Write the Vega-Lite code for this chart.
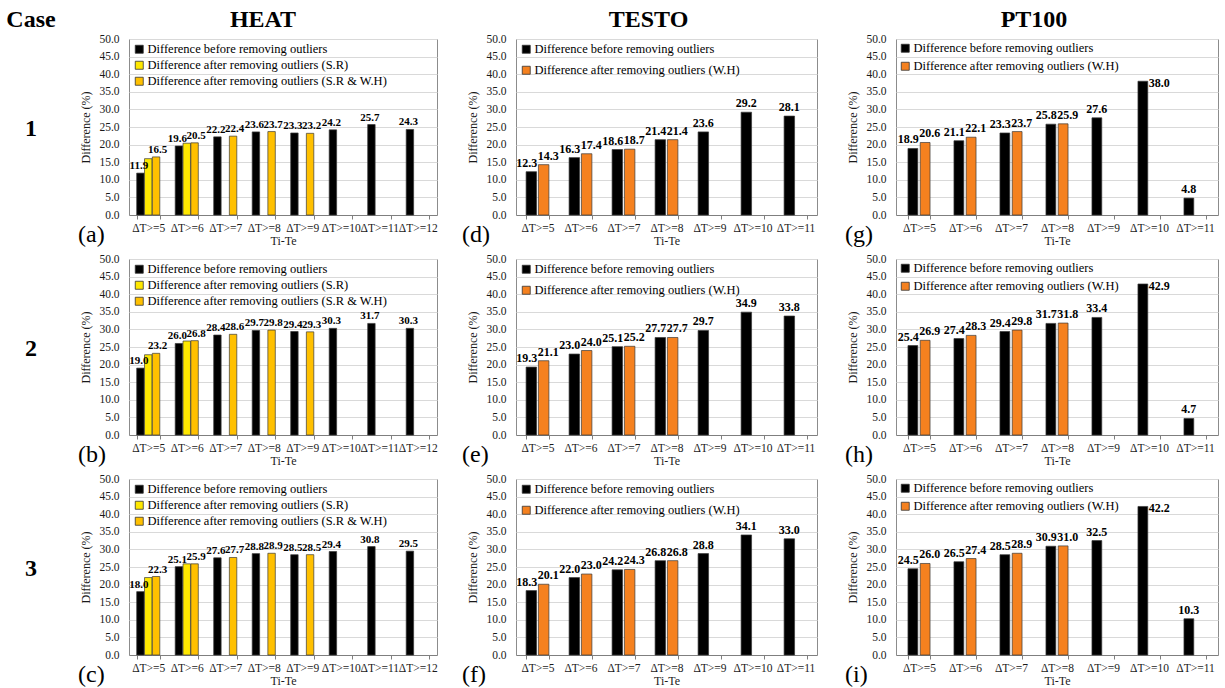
{
  "$schema": "https://vega.github.io/schema/vega-lite/v6.json",
  "background": "white",
  "padding": {"left": 0, "top": 0, "right": 0, "bottom": 0},
  "config": {
    "font": "Liberation Serif",
    "view": {"stroke": "#8c8c8c", "strokeWidth": 1},
    "axis": {"labelFont": "Liberation Serif", "titleFont": "Liberation Serif", "labelColor": "#1a1a1a", "titleColor": "#1a1a1a", "titleFontWeight": "normal", "labelFontSize": 11.5, "titleFontSize": 12},
    "axisY": {"grid": true, "gridColor": "#d9d9d9", "domain": false, "ticks": false, "labelPadding": 10, "titlePadding": 6},
    "axisX": {"grid": false, "domainColor": "#7f7f7f", "tickColor": "#7f7f7f", "tickBand": "extent", "tickSize": 4, "labelAngle": 0, "labelOverlap": false, "labelPadding": 3, "titlePadding": 2},
    "legend": {"padding": 0, "labelFont": "Liberation Serif", "labelFontSize": 12.5, "labelColor": "#000", "labelLimit": 400, "symbolType": "square", "symbolSize": 64, "symbolStrokeColor": "#333", "symbolStrokeWidth": 0.8, "labelOffset": 2},
    "title": {"font": "Liberation Serif", "fontSize": 24, "fontWeight": "normal", "color": "#000", "orient": "bottom", "anchor": "start", "frame": "group", "offset": -24, "dx": -51},
    "text": {"font": "Liberation Serif", "fontSize": 12, "fontWeight": "bold", "color": "#000"}
  },
  "datasets": {
    "diff": [
      {"case": "1", "sensor": "HEAT", "range": "ΔT>=5", "series": "Difference before removing outliers", "value": 11.9},
      {"case": "1", "sensor": "HEAT", "range": "ΔT>=5", "series": "Difference after removing outliers (S.R)", "value": 16.0},
      {"case": "1", "sensor": "HEAT", "range": "ΔT>=5", "series": "Difference after removing outliers (S.R & W.H)", "value": 16.5},
      {"case": "1", "sensor": "HEAT", "range": "ΔT>=6", "series": "Difference before removing outliers", "value": 19.6},
      {"case": "1", "sensor": "HEAT", "range": "ΔT>=6", "series": "Difference after removing outliers (S.R)", "value": 20.4},
      {"case": "1", "sensor": "HEAT", "range": "ΔT>=6", "series": "Difference after removing outliers (S.R & W.H)", "value": 20.5},
      {"case": "1", "sensor": "HEAT", "range": "ΔT>=7", "series": "Difference before removing outliers", "value": 22.2},
      {"case": "1", "sensor": "HEAT", "range": "ΔT>=7", "series": "Difference after removing outliers (S.R & W.H)", "value": 22.4},
      {"case": "1", "sensor": "HEAT", "range": "ΔT>=8", "series": "Difference before removing outliers", "value": 23.6},
      {"case": "1", "sensor": "HEAT", "range": "ΔT>=8", "series": "Difference after removing outliers (S.R & W.H)", "value": 23.7},
      {"case": "1", "sensor": "HEAT", "range": "ΔT>=9", "series": "Difference before removing outliers", "value": 23.3},
      {"case": "1", "sensor": "HEAT", "range": "ΔT>=9", "series": "Difference after removing outliers (S.R & W.H)", "value": 23.2},
      {"case": "1", "sensor": "HEAT", "range": "ΔT>=10", "series": "Difference before removing outliers", "value": 24.2},
      {"case": "1", "sensor": "HEAT", "range": "ΔT>=11", "series": "Difference before removing outliers", "value": 25.7},
      {"case": "1", "sensor": "HEAT", "range": "ΔT>=12", "series": "Difference before removing outliers", "value": 24.3},

      {"case": "2", "sensor": "HEAT", "range": "ΔT>=5", "series": "Difference before removing outliers", "value": 19.0},
      {"case": "2", "sensor": "HEAT", "range": "ΔT>=5", "series": "Difference after removing outliers (S.R)", "value": 22.8},
      {"case": "2", "sensor": "HEAT", "range": "ΔT>=5", "series": "Difference after removing outliers (S.R & W.H)", "value": 23.2},
      {"case": "2", "sensor": "HEAT", "range": "ΔT>=6", "series": "Difference before removing outliers", "value": 26.0},
      {"case": "2", "sensor": "HEAT", "range": "ΔT>=6", "series": "Difference after removing outliers (S.R)", "value": 26.7},
      {"case": "2", "sensor": "HEAT", "range": "ΔT>=6", "series": "Difference after removing outliers (S.R & W.H)", "value": 26.8},
      {"case": "2", "sensor": "HEAT", "range": "ΔT>=7", "series": "Difference before removing outliers", "value": 28.4},
      {"case": "2", "sensor": "HEAT", "range": "ΔT>=7", "series": "Difference after removing outliers (S.R & W.H)", "value": 28.6},
      {"case": "2", "sensor": "HEAT", "range": "ΔT>=8", "series": "Difference before removing outliers", "value": 29.7},
      {"case": "2", "sensor": "HEAT", "range": "ΔT>=8", "series": "Difference after removing outliers (S.R & W.H)", "value": 29.8},
      {"case": "2", "sensor": "HEAT", "range": "ΔT>=9", "series": "Difference before removing outliers", "value": 29.4},
      {"case": "2", "sensor": "HEAT", "range": "ΔT>=9", "series": "Difference after removing outliers (S.R & W.H)", "value": 29.3},
      {"case": "2", "sensor": "HEAT", "range": "ΔT>=10", "series": "Difference before removing outliers", "value": 30.3},
      {"case": "2", "sensor": "HEAT", "range": "ΔT>=11", "series": "Difference before removing outliers", "value": 31.7},
      {"case": "2", "sensor": "HEAT", "range": "ΔT>=12", "series": "Difference before removing outliers", "value": 30.3},

      {"case": "3", "sensor": "HEAT", "range": "ΔT>=5", "series": "Difference before removing outliers", "value": 18.0},
      {"case": "3", "sensor": "HEAT", "range": "ΔT>=5", "series": "Difference after removing outliers (S.R)", "value": 22.0},
      {"case": "3", "sensor": "HEAT", "range": "ΔT>=5", "series": "Difference after removing outliers (S.R & W.H)", "value": 22.3},
      {"case": "3", "sensor": "HEAT", "range": "ΔT>=6", "series": "Difference before removing outliers", "value": 25.1},
      {"case": "3", "sensor": "HEAT", "range": "ΔT>=6", "series": "Difference after removing outliers (S.R)", "value": 25.9},
      {"case": "3", "sensor": "HEAT", "range": "ΔT>=6", "series": "Difference after removing outliers (S.R & W.H)", "value": 25.9},
      {"case": "3", "sensor": "HEAT", "range": "ΔT>=7", "series": "Difference before removing outliers", "value": 27.6},
      {"case": "3", "sensor": "HEAT", "range": "ΔT>=7", "series": "Difference after removing outliers (S.R & W.H)", "value": 27.7},
      {"case": "3", "sensor": "HEAT", "range": "ΔT>=8", "series": "Difference before removing outliers", "value": 28.8},
      {"case": "3", "sensor": "HEAT", "range": "ΔT>=8", "series": "Difference after removing outliers (S.R & W.H)", "value": 28.9},
      {"case": "3", "sensor": "HEAT", "range": "ΔT>=9", "series": "Difference before removing outliers", "value": 28.5},
      {"case": "3", "sensor": "HEAT", "range": "ΔT>=9", "series": "Difference after removing outliers (S.R & W.H)", "value": 28.5},
      {"case": "3", "sensor": "HEAT", "range": "ΔT>=10", "series": "Difference before removing outliers", "value": 29.4},
      {"case": "3", "sensor": "HEAT", "range": "ΔT>=11", "series": "Difference before removing outliers", "value": 30.8},
      {"case": "3", "sensor": "HEAT", "range": "ΔT>=12", "series": "Difference before removing outliers", "value": 29.5},

      {"case": "1", "sensor": "TESTO", "range": "ΔT>=5", "series": "Difference before removing outliers", "value": 12.3},
      {"case": "1", "sensor": "TESTO", "range": "ΔT>=5", "series": "Difference after removing outliers (W.H)", "value": 14.3},
      {"case": "1", "sensor": "TESTO", "range": "ΔT>=6", "series": "Difference before removing outliers", "value": 16.3},
      {"case": "1", "sensor": "TESTO", "range": "ΔT>=6", "series": "Difference after removing outliers (W.H)", "value": 17.4},
      {"case": "1", "sensor": "TESTO", "range": "ΔT>=7", "series": "Difference before removing outliers", "value": 18.6},
      {"case": "1", "sensor": "TESTO", "range": "ΔT>=7", "series": "Difference after removing outliers (W.H)", "value": 18.7},
      {"case": "1", "sensor": "TESTO", "range": "ΔT>=8", "series": "Difference before removing outliers", "value": 21.4},
      {"case": "1", "sensor": "TESTO", "range": "ΔT>=8", "series": "Difference after removing outliers (W.H)", "value": 21.4},
      {"case": "1", "sensor": "TESTO", "range": "ΔT>=9", "series": "Difference before removing outliers", "value": 23.6},
      {"case": "1", "sensor": "TESTO", "range": "ΔT>=10", "series": "Difference before removing outliers", "value": 29.2},
      {"case": "1", "sensor": "TESTO", "range": "ΔT>=11", "series": "Difference before removing outliers", "value": 28.1},

      {"case": "2", "sensor": "TESTO", "range": "ΔT>=5", "series": "Difference before removing outliers", "value": 19.3},
      {"case": "2", "sensor": "TESTO", "range": "ΔT>=5", "series": "Difference after removing outliers (W.H)", "value": 21.1},
      {"case": "2", "sensor": "TESTO", "range": "ΔT>=6", "series": "Difference before removing outliers", "value": 23.0},
      {"case": "2", "sensor": "TESTO", "range": "ΔT>=6", "series": "Difference after removing outliers (W.H)", "value": 24.0},
      {"case": "2", "sensor": "TESTO", "range": "ΔT>=7", "series": "Difference before removing outliers", "value": 25.1},
      {"case": "2", "sensor": "TESTO", "range": "ΔT>=7", "series": "Difference after removing outliers (W.H)", "value": 25.2},
      {"case": "2", "sensor": "TESTO", "range": "ΔT>=8", "series": "Difference before removing outliers", "value": 27.7},
      {"case": "2", "sensor": "TESTO", "range": "ΔT>=8", "series": "Difference after removing outliers (W.H)", "value": 27.7},
      {"case": "2", "sensor": "TESTO", "range": "ΔT>=9", "series": "Difference before removing outliers", "value": 29.7},
      {"case": "2", "sensor": "TESTO", "range": "ΔT>=10", "series": "Difference before removing outliers", "value": 34.9},
      {"case": "2", "sensor": "TESTO", "range": "ΔT>=11", "series": "Difference before removing outliers", "value": 33.8},

      {"case": "3", "sensor": "TESTO", "range": "ΔT>=5", "series": "Difference before removing outliers", "value": 18.3},
      {"case": "3", "sensor": "TESTO", "range": "ΔT>=5", "series": "Difference after removing outliers (W.H)", "value": 20.1},
      {"case": "3", "sensor": "TESTO", "range": "ΔT>=6", "series": "Difference before removing outliers", "value": 22.0},
      {"case": "3", "sensor": "TESTO", "range": "ΔT>=6", "series": "Difference after removing outliers (W.H)", "value": 23.0},
      {"case": "3", "sensor": "TESTO", "range": "ΔT>=7", "series": "Difference before removing outliers", "value": 24.2},
      {"case": "3", "sensor": "TESTO", "range": "ΔT>=7", "series": "Difference after removing outliers (W.H)", "value": 24.3},
      {"case": "3", "sensor": "TESTO", "range": "ΔT>=8", "series": "Difference before removing outliers", "value": 26.8},
      {"case": "3", "sensor": "TESTO", "range": "ΔT>=8", "series": "Difference after removing outliers (W.H)", "value": 26.8},
      {"case": "3", "sensor": "TESTO", "range": "ΔT>=9", "series": "Difference before removing outliers", "value": 28.8},
      {"case": "3", "sensor": "TESTO", "range": "ΔT>=10", "series": "Difference before removing outliers", "value": 34.1},
      {"case": "3", "sensor": "TESTO", "range": "ΔT>=11", "series": "Difference before removing outliers", "value": 33.0},

      {"case": "1", "sensor": "PT100", "range": "ΔT>=5", "series": "Difference before removing outliers", "value": 18.9},
      {"case": "1", "sensor": "PT100", "range": "ΔT>=5", "series": "Difference after removing outliers (W.H)", "value": 20.6},
      {"case": "1", "sensor": "PT100", "range": "ΔT>=6", "series": "Difference before removing outliers", "value": 21.1},
      {"case": "1", "sensor": "PT100", "range": "ΔT>=6", "series": "Difference after removing outliers (W.H)", "value": 22.1},
      {"case": "1", "sensor": "PT100", "range": "ΔT>=7", "series": "Difference before removing outliers", "value": 23.3},
      {"case": "1", "sensor": "PT100", "range": "ΔT>=7", "series": "Difference after removing outliers (W.H)", "value": 23.7},
      {"case": "1", "sensor": "PT100", "range": "ΔT>=8", "series": "Difference before removing outliers", "value": 25.8},
      {"case": "1", "sensor": "PT100", "range": "ΔT>=8", "series": "Difference after removing outliers (W.H)", "value": 25.9},
      {"case": "1", "sensor": "PT100", "range": "ΔT>=9", "series": "Difference before removing outliers", "value": 27.6},
      {"case": "1", "sensor": "PT100", "range": "ΔT>=10", "series": "Difference before removing outliers", "value": 38.0},
      {"case": "1", "sensor": "PT100", "range": "ΔT>=11", "series": "Difference before removing outliers", "value": 4.8},

      {"case": "2", "sensor": "PT100", "range": "ΔT>=5", "series": "Difference before removing outliers", "value": 25.4},
      {"case": "2", "sensor": "PT100", "range": "ΔT>=5", "series": "Difference after removing outliers (W.H)", "value": 26.9},
      {"case": "2", "sensor": "PT100", "range": "ΔT>=6", "series": "Difference before removing outliers", "value": 27.4},
      {"case": "2", "sensor": "PT100", "range": "ΔT>=6", "series": "Difference after removing outliers (W.H)", "value": 28.3},
      {"case": "2", "sensor": "PT100", "range": "ΔT>=7", "series": "Difference before removing outliers", "value": 29.4},
      {"case": "2", "sensor": "PT100", "range": "ΔT>=7", "series": "Difference after removing outliers (W.H)", "value": 29.8},
      {"case": "2", "sensor": "PT100", "range": "ΔT>=8", "series": "Difference before removing outliers", "value": 31.7},
      {"case": "2", "sensor": "PT100", "range": "ΔT>=8", "series": "Difference after removing outliers (W.H)", "value": 31.8},
      {"case": "2", "sensor": "PT100", "range": "ΔT>=9", "series": "Difference before removing outliers", "value": 33.4},
      {"case": "2", "sensor": "PT100", "range": "ΔT>=10", "series": "Difference before removing outliers", "value": 42.9},
      {"case": "2", "sensor": "PT100", "range": "ΔT>=11", "series": "Difference before removing outliers", "value": 4.7},

      {"case": "3", "sensor": "PT100", "range": "ΔT>=5", "series": "Difference before removing outliers", "value": 24.5},
      {"case": "3", "sensor": "PT100", "range": "ΔT>=5", "series": "Difference after removing outliers (W.H)", "value": 26.0},
      {"case": "3", "sensor": "PT100", "range": "ΔT>=6", "series": "Difference before removing outliers", "value": 26.5},
      {"case": "3", "sensor": "PT100", "range": "ΔT>=6", "series": "Difference after removing outliers (W.H)", "value": 27.4},
      {"case": "3", "sensor": "PT100", "range": "ΔT>=7", "series": "Difference before removing outliers", "value": 28.5},
      {"case": "3", "sensor": "PT100", "range": "ΔT>=7", "series": "Difference after removing outliers (W.H)", "value": 28.9},
      {"case": "3", "sensor": "PT100", "range": "ΔT>=8", "series": "Difference before removing outliers", "value": 30.9},
      {"case": "3", "sensor": "PT100", "range": "ΔT>=8", "series": "Difference after removing outliers (W.H)", "value": 31.0},
      {"case": "3", "sensor": "PT100", "range": "ΔT>=9", "series": "Difference before removing outliers", "value": 32.5},
      {"case": "3", "sensor": "PT100", "range": "ΔT>=10", "series": "Difference before removing outliers", "value": 42.2},
      {"case": "3", "sensor": "PT100", "range": "ΔT>=11", "series": "Difference before removing outliers", "value": 10.3}
    ]
  },
  "bounds": "full",
  "spacing": 0,
  "resolve": {"scale": {"color": "independent", "xOffset": "independent", "x": "independent", "y": "independent"}, "legend": {"color": "independent"}},
  "vconcat": [
    {
      "bounds": "flush",
      "spacing": 79,
      "hconcat": [
        {"width": 50, "height": 30, "view": {"stroke": null}, "data": {"values": [{"label": "Case"}]}, "mark": {"type": "text", "fontSize": 24, "dx": 6, "dy": 5}, "encoding": {"text": {"field": "label"}}},
        {"width": 308, "height": 30, "view": {"stroke": null}, "data": {"values": [{"label": "HEAT"}]}, "mark": {"type": "text", "fontSize": 24, "dx": -20, "dy": 5}, "encoding": {"text": {"field": "label"}}},
        {"width": 301, "height": 30, "view": {"stroke": null}, "data": {"values": [{"label": "TESTO"}]}, "mark": {"type": "text", "fontSize": 24, "dx": -18, "dy": 5}, "encoding": {"text": {"field": "label"}}},
        {"width": 322, "height": 30, "view": {"stroke": null}, "data": {"values": [{"label": "PT100"}]}, "mark": {"type": "text", "fontSize": 24, "dx": -23, "dy": 5}, "encoding": {"text": {"field": "label"}}}
      ]
    },
    {
      "columns": 4,
      "bounds": "flush",
      "align": "each",
      "spacing": {"row": 44, "column": 79},
      "resolve": {"scale": {"color": "independent", "xOffset": "independent", "x": "independent", "y": "independent"}, "legend": {"color": "independent"}},
      "concat": [
        {"width": 50, "height": 176, "view": {"stroke": null}, "data": {"values": [{"label": "1"}]}, "mark": {"type": "text", "fontSize": 24, "dx": 6, "dy": 2}, "encoding": {"text": {"field": "label"}}},
        {
          "width": 308, "height": 176, "title": "(a)",
          "data": {"name": "diff"},
          "transform": [{"filter": "datum.case == '1' && datum.sensor == 'HEAT'"}],
          "encoding": {
            "x": {"field": "range", "type": "nominal", "sort": ["ΔT>=5", "ΔT>=6", "ΔT>=7", "ΔT>=8", "ΔT>=9", "ΔT>=10", "ΔT>=11", "ΔT>=12"], "scale": {"paddingInner": 0.4, "paddingOuter": 0.2}, "axis": {"title": "Ti-Te"}},
            "xOffset": {"field": "series", "type": "nominal", "scale": {"domain": ["Difference before removing outliers", "Difference after removing outliers (S.R)", "Difference after removing outliers (S.R & W.H)"], "paddingInner": 0.05}},
            "y": {"field": "value", "type": "quantitative", "scale": {"domain": [0, 50]}, "axis": {"values": [0, 5, 10, 15, 20, 25, 30, 35, 40, 45, 50], "format": ".1f", "title": "Difference (%)"}}
          },
          "layer": [
            {"mark": {"type": "bar", "stroke": "#3a3a3a", "strokeWidth": 0.7}, "encoding": {"color": {"field": "series", "type": "nominal", "scale": {"domain": ["Difference before removing outliers", "Difference after removing outliers (S.R)", "Difference after removing outliers (S.R & W.H)"], "range": ["#000000", "#ffe800", "#ffc000"]}, "legend": {"title": null, "orient": "top-left", "offset": 4, "rowPadding": 3}}}},
            {"transform": [{"filter": "indexof(datum.series, 'before') >= 0"}], "mark": {"type": "text", "fontSize": 11, "align": "center", "baseline": "bottom", "dx": -1.5, "dy": -2}, "encoding": {"text": {"field": "value", "type": "quantitative", "format": ".1f"}}},
            {"transform": [{"filter": "indexof(datum.series, 'W.H') >= 0"}], "mark": {"type": "text", "fontSize": 11, "align": "center", "baseline": "bottom", "dx": 1.5, "dy": -2}, "encoding": {"text": {"field": "value", "type": "quantitative", "format": ".1f"}}}
          ]
        },
        {
          "width": 301, "height": 176, "title": {"text": "(d)", "dx": -54},
          "data": {"name": "diff"},
          "transform": [{"filter": "datum.case == '1' && datum.sensor == 'TESTO'"}],
          "encoding": {
            "x": {"field": "range", "type": "nominal", "sort": ["ΔT>=5", "ΔT>=6", "ΔT>=7", "ΔT>=8", "ΔT>=9", "ΔT>=10", "ΔT>=11"], "scale": {"paddingInner": 0.47, "paddingOuter": 0.235}, "axis": {"title": "Ti-Te"}},
            "xOffset": {"field": "series", "type": "nominal", "scale": {"domain": ["Difference before removing outliers", "Difference after removing outliers (W.H)"], "paddingInner": 0.15}},
            "y": {"field": "value", "type": "quantitative", "scale": {"domain": [0, 50]}, "axis": {"values": [0, 5, 10, 15, 20, 25, 30, 35, 40, 45, 50], "format": ".1f", "title": "Difference (%)"}}
          },
          "layer": [
            {"mark": {"type": "bar", "stroke": "#3a3a3a", "strokeWidth": 0.7}, "encoding": {"color": {"field": "series", "type": "nominal", "scale": {"domain": ["Difference before removing outliers", "Difference after removing outliers (W.H)"], "range": ["#000000", "#f5811f"]}, "legend": {"title": null, "orient": "top-left", "offset": 4, "rowPadding": 8}}}},
            {"transform": [{"joinaggregate": [{"op": "count", "as": "n"}], "groupby": ["range"]}, {"filter": "indexof(datum.series, 'before') >= 0 && datum.n > 1"}], "mark": {"type": "text", "align": "right", "baseline": "bottom", "dx": 6, "dy": -2}, "encoding": {"text": {"field": "value", "type": "quantitative", "format": ".1f"}}},
            {"transform": [{"joinaggregate": [{"op": "count", "as": "n"}], "groupby": ["range"]}, {"filter": "indexof(datum.series, 'before') >= 0 && datum.n == 1"}], "mark": {"type": "text", "align": "center", "baseline": "bottom", "dy": -2}, "encoding": {"text": {"field": "value", "type": "quantitative", "format": ".1f"}}},
            {"transform": [{"filter": "indexof(datum.series, 'W.H') >= 0"}], "mark": {"type": "text", "align": "left", "baseline": "bottom", "dx": -6, "dy": -2}, "encoding": {"text": {"field": "value", "type": "quantitative", "format": ".1f"}}}
          ]
        },
        {
          "width": 322, "height": 176, "title": "(g)",
          "data": {"name": "diff"},
          "transform": [{"filter": "datum.case == '1' && datum.sensor == 'PT100'"}],
          "encoding": {
            "x": {"field": "range", "type": "nominal", "sort": ["ΔT>=5", "ΔT>=6", "ΔT>=7", "ΔT>=8", "ΔT>=9", "ΔT>=10", "ΔT>=11"], "scale": {"paddingInner": 0.52, "paddingOuter": 0.26}, "axis": {"title": "Ti-Te"}},
            "xOffset": {"field": "series", "type": "nominal", "scale": {"domain": ["Difference before removing outliers", "Difference after removing outliers (W.H)"], "paddingInner": 0.2}},
            "y": {"field": "value", "type": "quantitative", "scale": {"domain": [0, 50]}, "axis": {"values": [0, 5, 10, 15, 20, 25, 30, 35, 40, 45, 50], "format": ".1f", "title": "Difference (%)"}}
          },
          "layer": [
            {"mark": {"type": "bar", "stroke": "#3a3a3a", "strokeWidth": 0.7}, "encoding": {"color": {"field": "series", "type": "nominal", "scale": {"domain": ["Difference before removing outliers", "Difference after removing outliers (W.H)"], "range": ["#000000", "#f5811f"]}, "legend": {"title": null, "orient": "top-left", "offset": 3, "rowPadding": 5}}}},
            {"transform": [{"joinaggregate": [{"op": "count", "as": "n"}], "groupby": ["range"]}, {"filter": "indexof(datum.series, 'before') >= 0 && datum.n > 1"}], "mark": {"type": "text", "align": "right", "baseline": "bottom", "dx": 6, "dy": -2}, "encoding": {"text": {"field": "value", "type": "quantitative", "format": ".1f"}}},
            {"transform": [{"joinaggregate": [{"op": "count", "as": "n"}], "groupby": ["range"]}, {"filter": "indexof(datum.series, 'before') >= 0 && datum.n == 1 && datum.range != 'ΔT>=10'"}], "mark": {"type": "text", "align": "center", "baseline": "bottom", "dy": -2}, "encoding": {"text": {"field": "value", "type": "quantitative", "format": ".1f"}}},
            {"transform": [{"filter": "datum.range == 'ΔT>=10'"}], "mark": {"type": "text", "align": "left", "baseline": "middle", "dx": 6, "dy": 2}, "encoding": {"text": {"field": "value", "type": "quantitative", "format": ".1f"}}},
            {"transform": [{"filter": "indexof(datum.series, 'W.H') >= 0"}], "mark": {"type": "text", "align": "left", "baseline": "bottom", "dx": -6, "dy": -2}, "encoding": {"text": {"field": "value", "type": "quantitative", "format": ".1f"}}}
          ]
        },

        {"width": 50, "height": 176, "view": {"stroke": null}, "data": {"values": [{"label": "2"}]}, "mark": {"type": "text", "fontSize": 24, "dx": 6, "dy": 2}, "encoding": {"text": {"field": "label"}}},
        {
          "width": 308, "height": 176, "title": "(b)",
          "data": {"name": "diff"},
          "transform": [{"filter": "datum.case == '2' && datum.sensor == 'HEAT'"}],
          "encoding": {
            "x": {"field": "range", "type": "nominal", "sort": ["ΔT>=5", "ΔT>=6", "ΔT>=7", "ΔT>=8", "ΔT>=9", "ΔT>=10", "ΔT>=11", "ΔT>=12"], "scale": {"paddingInner": 0.4, "paddingOuter": 0.2}, "axis": {"title": "Ti-Te"}},
            "xOffset": {"field": "series", "type": "nominal", "scale": {"domain": ["Difference before removing outliers", "Difference after removing outliers (S.R)", "Difference after removing outliers (S.R & W.H)"], "paddingInner": 0.05}},
            "y": {"field": "value", "type": "quantitative", "scale": {"domain": [0, 50]}, "axis": {"values": [0, 5, 10, 15, 20, 25, 30, 35, 40, 45, 50], "format": ".1f", "title": "Difference (%)"}}
          },
          "layer": [
            {"mark": {"type": "bar", "stroke": "#3a3a3a", "strokeWidth": 0.7}, "encoding": {"color": {"field": "series", "type": "nominal", "scale": {"domain": ["Difference before removing outliers", "Difference after removing outliers (S.R)", "Difference after removing outliers (S.R & W.H)"], "range": ["#000000", "#ffe800", "#ffc000"]}, "legend": {"title": null, "orient": "top-left", "offset": 4, "rowPadding": 3}}}},
            {"transform": [{"filter": "indexof(datum.series, 'before') >= 0"}], "mark": {"type": "text", "fontSize": 11, "align": "center", "baseline": "bottom", "dx": -1.5, "dy": -2}, "encoding": {"text": {"field": "value", "type": "quantitative", "format": ".1f"}}},
            {"transform": [{"filter": "indexof(datum.series, 'W.H') >= 0"}], "mark": {"type": "text", "fontSize": 11, "align": "center", "baseline": "bottom", "dx": 1.5, "dy": -2}, "encoding": {"text": {"field": "value", "type": "quantitative", "format": ".1f"}}}
          ]
        },
        {
          "width": 301, "height": 176, "title": {"text": "(e)", "dx": -54},
          "data": {"name": "diff"},
          "transform": [{"filter": "datum.case == '2' && datum.sensor == 'TESTO'"}],
          "encoding": {
            "x": {"field": "range", "type": "nominal", "sort": ["ΔT>=5", "ΔT>=6", "ΔT>=7", "ΔT>=8", "ΔT>=9", "ΔT>=10", "ΔT>=11"], "scale": {"paddingInner": 0.47, "paddingOuter": 0.235}, "axis": {"title": "Ti-Te"}},
            "xOffset": {"field": "series", "type": "nominal", "scale": {"domain": ["Difference before removing outliers", "Difference after removing outliers (W.H)"], "paddingInner": 0.15}},
            "y": {"field": "value", "type": "quantitative", "scale": {"domain": [0, 50]}, "axis": {"values": [0, 5, 10, 15, 20, 25, 30, 35, 40, 45, 50], "format": ".1f", "title": "Difference (%)"}}
          },
          "layer": [
            {"mark": {"type": "bar", "stroke": "#3a3a3a", "strokeWidth": 0.7}, "encoding": {"color": {"field": "series", "type": "nominal", "scale": {"domain": ["Difference before removing outliers", "Difference after removing outliers (W.H)"], "range": ["#000000", "#f5811f"]}, "legend": {"title": null, "orient": "top-left", "offset": 4, "rowPadding": 8}}}},
            {"transform": [{"joinaggregate": [{"op": "count", "as": "n"}], "groupby": ["range"]}, {"filter": "indexof(datum.series, 'before') >= 0 && datum.n > 1"}], "mark": {"type": "text", "align": "right", "baseline": "bottom", "dx": 6, "dy": -2}, "encoding": {"text": {"field": "value", "type": "quantitative", "format": ".1f"}}},
            {"transform": [{"joinaggregate": [{"op": "count", "as": "n"}], "groupby": ["range"]}, {"filter": "indexof(datum.series, 'before') >= 0 && datum.n == 1"}], "mark": {"type": "text", "align": "center", "baseline": "bottom", "dy": -2}, "encoding": {"text": {"field": "value", "type": "quantitative", "format": ".1f"}}},
            {"transform": [{"filter": "indexof(datum.series, 'W.H') >= 0"}], "mark": {"type": "text", "align": "left", "baseline": "bottom", "dx": -6, "dy": -2}, "encoding": {"text": {"field": "value", "type": "quantitative", "format": ".1f"}}}
          ]
        },
        {
          "width": 322, "height": 176, "title": "(h)",
          "data": {"name": "diff"},
          "transform": [{"filter": "datum.case == '2' && datum.sensor == 'PT100'"}],
          "encoding": {
            "x": {"field": "range", "type": "nominal", "sort": ["ΔT>=5", "ΔT>=6", "ΔT>=7", "ΔT>=8", "ΔT>=9", "ΔT>=10", "ΔT>=11"], "scale": {"paddingInner": 0.52, "paddingOuter": 0.26}, "axis": {"title": "Ti-Te"}},
            "xOffset": {"field": "series", "type": "nominal", "scale": {"domain": ["Difference before removing outliers", "Difference after removing outliers (W.H)"], "paddingInner": 0.2}},
            "y": {"field": "value", "type": "quantitative", "scale": {"domain": [0, 50]}, "axis": {"values": [0, 5, 10, 15, 20, 25, 30, 35, 40, 45, 50], "format": ".1f", "title": "Difference (%)"}}
          },
          "layer": [
            {"mark": {"type": "bar", "stroke": "#3a3a3a", "strokeWidth": 0.7}, "encoding": {"color": {"field": "series", "type": "nominal", "scale": {"domain": ["Difference before removing outliers", "Difference after removing outliers (W.H)"], "range": ["#000000", "#f5811f"]}, "legend": {"title": null, "orient": "top-left", "offset": 3, "rowPadding": 5}}}},
            {"transform": [{"joinaggregate": [{"op": "count", "as": "n"}], "groupby": ["range"]}, {"filter": "indexof(datum.series, 'before') >= 0 && datum.n > 1"}], "mark": {"type": "text", "align": "right", "baseline": "bottom", "dx": 6, "dy": -2}, "encoding": {"text": {"field": "value", "type": "quantitative", "format": ".1f"}}},
            {"transform": [{"joinaggregate": [{"op": "count", "as": "n"}], "groupby": ["range"]}, {"filter": "indexof(datum.series, 'before') >= 0 && datum.n == 1 && datum.range != 'ΔT>=10'"}], "mark": {"type": "text", "align": "center", "baseline": "bottom", "dy": -2}, "encoding": {"text": {"field": "value", "type": "quantitative", "format": ".1f"}}},
            {"transform": [{"filter": "datum.range == 'ΔT>=10'"}], "mark": {"type": "text", "align": "left", "baseline": "middle", "dx": 6, "dy": 2}, "encoding": {"text": {"field": "value", "type": "quantitative", "format": ".1f"}}},
            {"transform": [{"filter": "indexof(datum.series, 'W.H') >= 0"}], "mark": {"type": "text", "align": "left", "baseline": "bottom", "dx": -6, "dy": -2}, "encoding": {"text": {"field": "value", "type": "quantitative", "format": ".1f"}}}
          ]
        },

        {"width": 50, "height": 176, "view": {"stroke": null}, "data": {"values": [{"label": "3"}]}, "mark": {"type": "text", "fontSize": 24, "dx": 6, "dy": 2}, "encoding": {"text": {"field": "label"}}},
        {
          "width": 308, "height": 176, "title": "(c)",
          "data": {"name": "diff"},
          "transform": [{"filter": "datum.case == '3' && datum.sensor == 'HEAT'"}],
          "encoding": {
            "x": {"field": "range", "type": "nominal", "sort": ["ΔT>=5", "ΔT>=6", "ΔT>=7", "ΔT>=8", "ΔT>=9", "ΔT>=10", "ΔT>=11", "ΔT>=12"], "scale": {"paddingInner": 0.4, "paddingOuter": 0.2}, "axis": {"title": "Ti-Te"}},
            "xOffset": {"field": "series", "type": "nominal", "scale": {"domain": ["Difference before removing outliers", "Difference after removing outliers (S.R)", "Difference after removing outliers (S.R & W.H)"], "paddingInner": 0.05}},
            "y": {"field": "value", "type": "quantitative", "scale": {"domain": [0, 50]}, "axis": {"values": [0, 5, 10, 15, 20, 25, 30, 35, 40, 45, 50], "format": ".1f", "title": "Difference (%)"}}
          },
          "layer": [
            {"mark": {"type": "bar", "stroke": "#3a3a3a", "strokeWidth": 0.7}, "encoding": {"color": {"field": "series", "type": "nominal", "scale": {"domain": ["Difference before removing outliers", "Difference after removing outliers (S.R)", "Difference after removing outliers (S.R & W.H)"], "range": ["#000000", "#ffe800", "#ffc000"]}, "legend": {"title": null, "orient": "top-left", "offset": 4, "rowPadding": 3}}}},
            {"transform": [{"filter": "indexof(datum.series, 'before') >= 0"}], "mark": {"type": "text", "fontSize": 11, "align": "center", "baseline": "bottom", "dx": -1.5, "dy": -2}, "encoding": {"text": {"field": "value", "type": "quantitative", "format": ".1f"}}},
            {"transform": [{"filter": "indexof(datum.series, 'W.H') >= 0"}], "mark": {"type": "text", "fontSize": 11, "align": "center", "baseline": "bottom", "dx": 1.5, "dy": -2}, "encoding": {"text": {"field": "value", "type": "quantitative", "format": ".1f"}}}
          ]
        },
        {
          "width": 301, "height": 176, "title": {"text": "(f)", "dx": -54},
          "data": {"name": "diff"},
          "transform": [{"filter": "datum.case == '3' && datum.sensor == 'TESTO'"}],
          "encoding": {
            "x": {"field": "range", "type": "nominal", "sort": ["ΔT>=5", "ΔT>=6", "ΔT>=7", "ΔT>=8", "ΔT>=9", "ΔT>=10", "ΔT>=11"], "scale": {"paddingInner": 0.47, "paddingOuter": 0.235}, "axis": {"title": "Ti-Te"}},
            "xOffset": {"field": "series", "type": "nominal", "scale": {"domain": ["Difference before removing outliers", "Difference after removing outliers (W.H)"], "paddingInner": 0.15}},
            "y": {"field": "value", "type": "quantitative", "scale": {"domain": [0, 50]}, "axis": {"values": [0, 5, 10, 15, 20, 25, 30, 35, 40, 45, 50], "format": ".1f", "title": "Difference (%)"}}
          },
          "layer": [
            {"mark": {"type": "bar", "stroke": "#3a3a3a", "strokeWidth": 0.7}, "encoding": {"color": {"field": "series", "type": "nominal", "scale": {"domain": ["Difference before removing outliers", "Difference after removing outliers (W.H)"], "range": ["#000000", "#f5811f"]}, "legend": {"title": null, "orient": "top-left", "offset": 4, "rowPadding": 8}}}},
            {"transform": [{"joinaggregate": [{"op": "count", "as": "n"}], "groupby": ["range"]}, {"filter": "indexof(datum.series, 'before') >= 0 && datum.n > 1"}], "mark": {"type": "text", "align": "right", "baseline": "bottom", "dx": 6, "dy": -2}, "encoding": {"text": {"field": "value", "type": "quantitative", "format": ".1f"}}},
            {"transform": [{"joinaggregate": [{"op": "count", "as": "n"}], "groupby": ["range"]}, {"filter": "indexof(datum.series, 'before') >= 0 && datum.n == 1"}], "mark": {"type": "text", "align": "center", "baseline": "bottom", "dy": -2}, "encoding": {"text": {"field": "value", "type": "quantitative", "format": ".1f"}}},
            {"transform": [{"filter": "indexof(datum.series, 'W.H') >= 0"}], "mark": {"type": "text", "align": "left", "baseline": "bottom", "dx": -6, "dy": -2}, "encoding": {"text": {"field": "value", "type": "quantitative", "format": ".1f"}}}
          ]
        },
        {
          "width": 322, "height": 176, "title": "(i)",
          "data": {"name": "diff"},
          "transform": [{"filter": "datum.case == '3' && datum.sensor == 'PT100'"}],
          "encoding": {
            "x": {"field": "range", "type": "nominal", "sort": ["ΔT>=5", "ΔT>=6", "ΔT>=7", "ΔT>=8", "ΔT>=9", "ΔT>=10", "ΔT>=11"], "scale": {"paddingInner": 0.52, "paddingOuter": 0.26}, "axis": {"title": "Ti-Te"}},
            "xOffset": {"field": "series", "type": "nominal", "scale": {"domain": ["Difference before removing outliers", "Difference after removing outliers (W.H)"], "paddingInner": 0.2}},
            "y": {"field": "value", "type": "quantitative", "scale": {"domain": [0, 50]}, "axis": {"values": [0, 5, 10, 15, 20, 25, 30, 35, 40, 45, 50], "format": ".1f", "title": "Difference (%)"}}
          },
          "layer": [
            {"mark": {"type": "bar", "stroke": "#3a3a3a", "strokeWidth": 0.7}, "encoding": {"color": {"field": "series", "type": "nominal", "scale": {"domain": ["Difference before removing outliers", "Difference after removing outliers (W.H)"], "range": ["#000000", "#f5811f"]}, "legend": {"title": null, "orient": "top-left", "offset": 3, "rowPadding": 5}}}},
            {"transform": [{"joinaggregate": [{"op": "count", "as": "n"}], "groupby": ["range"]}, {"filter": "indexof(datum.series, 'before') >= 0 && datum.n > 1"}], "mark": {"type": "text", "align": "right", "baseline": "bottom", "dx": 6, "dy": -2}, "encoding": {"text": {"field": "value", "type": "quantitative", "format": ".1f"}}},
            {"transform": [{"joinaggregate": [{"op": "count", "as": "n"}], "groupby": ["range"]}, {"filter": "indexof(datum.series, 'before') >= 0 && datum.n == 1 && datum.range != 'ΔT>=10'"}], "mark": {"type": "text", "align": "center", "baseline": "bottom", "dy": -2}, "encoding": {"text": {"field": "value", "type": "quantitative", "format": ".1f"}}},
            {"transform": [{"filter": "datum.range == 'ΔT>=10'"}], "mark": {"type": "text", "align": "left", "baseline": "middle", "dx": 6, "dy": 2}, "encoding": {"text": {"field": "value", "type": "quantitative", "format": ".1f"}}},
            {"transform": [{"filter": "indexof(datum.series, 'W.H') >= 0"}], "mark": {"type": "text", "align": "left", "baseline": "bottom", "dx": -6, "dy": -2}, "encoding": {"text": {"field": "value", "type": "quantitative", "format": ".1f"}}}
          ]
        }
      ]
    }
  ]
}
